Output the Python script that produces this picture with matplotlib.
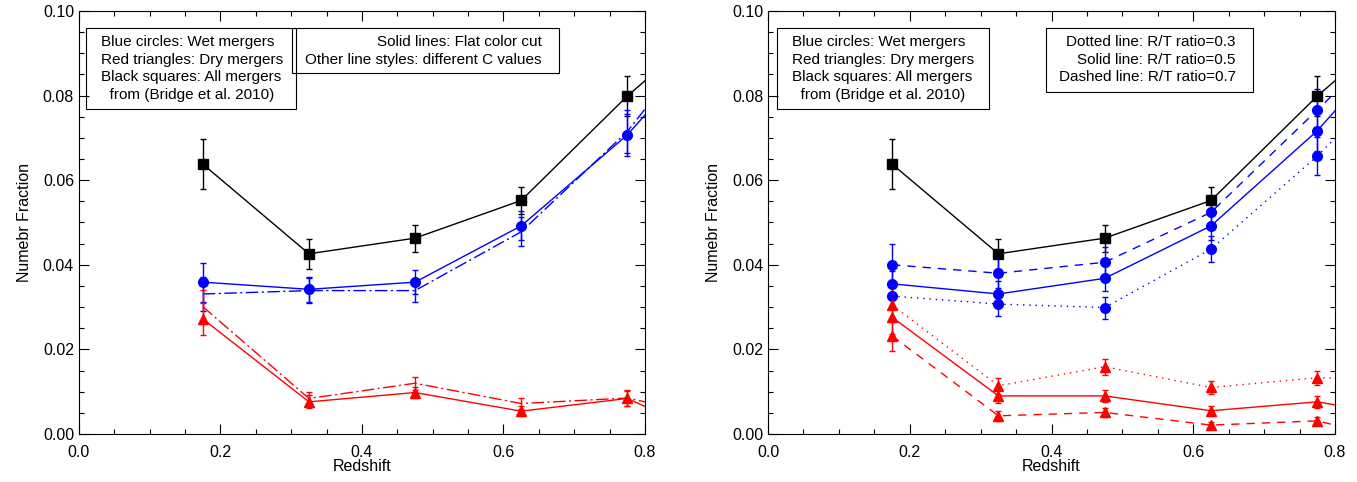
import matplotlib

matplotlib.use("Agg")
import matplotlib.pyplot as plt
from matplotlib.patches import Rectangle
from matplotlib.ticker import MultipleLocator

plt.rcParams["font.family"] = ["Liberation Sans", "DejaVu Sans"]

# redshift bins (marker positions) and the value where each line leaves the frame at z=0.8
z = [0.175, 0.325, 0.475, 0.625, 0.775]
z_edge = 0.8

# Bridge et al. 2010, all mergers
all_frac = [0.0638, 0.0426, 0.0463, 0.0552, 0.0799]
all_edge = 0.0835
all_err = [0.0060, 0.0035, 0.0032, 0.0033, 0.0048]

# left panel: flat colour cut vs. C value
wet_flat = [0.0359, 0.0342, 0.0359, 0.0492, 0.0707]
wet_flat_edge = 0.0754
wet_flat_err = [0.0046, 0.0030, 0.0029, 0.0034, 0.0050]
wet_c = [0.0331, 0.0339, 0.0339, 0.0478, 0.0715]
wet_c_edge = 0.0768
wet_c_err = [0.0040, 0.0030, 0.0028, 0.0034, 0.0050]
dry_flat = [0.0272, 0.0076, 0.0098, 0.0054, 0.0084]
dry_flat_edge = 0.0065
dry_flat_err = [0.0038, 0.0015, 0.0012, 0.0012, 0.0018]
dry_c = [0.0301, 0.0084, 0.0120, 0.0072, 0.0085]
dry_c_edge = 0.0076
dry_c_err = [0.0040, 0.0015, 0.0015, 0.0013, 0.0018]

# right panel: R/T ratio 0.3 / 0.5 / 0.7
wet_03 = [0.0326, 0.0307, 0.0299, 0.0437, 0.0657]
wet_03_edge = 0.0699
wet_03_err = [0.0025, 0.0028, 0.0026, 0.0030, 0.0045]
wet_05 = [0.0355, 0.0331, 0.0368, 0.0492, 0.0717]
wet_05_edge = 0.0764
wet_05_err = [0.0030, 0.0030, 0.0030, 0.0033, 0.0048]
wet_07 = [0.0400, 0.0380, 0.0406, 0.0524, 0.0766]
wet_07_edge = 0.0807
wet_07_err = [0.0048, 0.0035, 0.0035, 0.0035, 0.0050]
dry_03 = [0.0305, 0.0114, 0.0159, 0.0110, 0.0133]
dry_03_edge = 0.0132
dry_03_err = [0.0040, 0.0019, 0.0019, 0.0015, 0.0017]
dry_05 = [0.0276, 0.0090, 0.0090, 0.0055, 0.0076]
dry_05_edge = 0.0069
dry_05_err = [0.0040, 0.0017, 0.0015, 0.0012, 0.0014]
dry_07 = [0.0232, 0.0043, 0.0051, 0.0021, 0.0031]
dry_07_edge = 0.0021
dry_07_err = [0.0035, 0.0012, 0.0011, 0.0008, 0.0010]

left_box1 = ["Blue circles: Wet mergers", "Red triangles: Dry mergers",
             "Black squares: All mergers", "  from (Bridge et al. 2010)"]
left_box2 = ["Solid lines: Flat color cut", "Other line styles: different C values"]
right_box2 = ["Dotted line: R/T ratio=0.3", "Solid line: R/T ratio=0.5",
              "Dashed line: R/T ratio=0.7"]

DASHDOT = (0, (9, 2.5, 1.5, 2.5))
DOTTED = (0, (1, 3.5))
DASHED = (0, (6, 5))


def series(ax, y, edge, err, color, marker, ls, ms, lw=1.0):
    ax.plot(z + [z_edge], y + [edge], color=color, ls=ls, lw=lw, clip_on=True)
    ax.errorbar(z, y, yerr=err, fmt=marker, color=color, ms=ms, ecolor=color,
                elinewidth=1.0, capsize=2.5, capthick=1.0, ls="none")


def frame(ax):
    ax.set_xlim(0.0, 0.8)
    ax.set_ylim(0.0, 0.10)
    ax.xaxis.set_major_locator(MultipleLocator(0.2))
    ax.xaxis.set_minor_locator(MultipleLocator(0.05))
    ax.yaxis.set_major_locator(MultipleLocator(0.02))
    ax.yaxis.set_minor_locator(MultipleLocator(0.005))
    ax.xaxis.set_major_formatter(lambda v, p: f"{v:.1f}")
    ax.yaxis.set_major_formatter(lambda v, p: f"{v:.2f}")
    ax.tick_params(which="both", direction="in", top=True, right=True,
                   labelsize=11.5, width=0.8)
    ax.tick_params(which="major", length=7)
    ax.tick_params(which="minor", length=3.5)
    ax.tick_params(axis="x", pad=8)
    for s in ax.spines.values():
        s.set_linewidth(0.8)
    ax.set_xlabel("Redshift", fontsize=11.5, labelpad=-1)
    ax.set_ylabel("Numebr Fraction", fontsize=11.5, labelpad=8)


def box(ax, x0, x1, y0, y1, lines, align):
    ax.add_patch(Rectangle((x0, y0), x1 - x0, y1 - y0, transform=ax.transAxes,
                           fill=False, lw=0.8, ec="black", zorder=1))
    ys = [0.927, 0.885, 0.844, 0.801]
    for t, yy in zip(lines, ys):
        if align == "left":
            ax.text(x0 + 0.027, yy, t, transform=ax.transAxes, ha="left",
                    va="center", fontsize=11)
        else:
            ax.text(x1 - 0.03, yy, t, transform=ax.transAxes, ha="right",
                    va="center", fontsize=11)


fig = plt.figure(figsize=(13.57, 4.82), dpi=100)
ax1 = fig.add_axes([0.0582, 0.0996, 0.4171, 0.8776])
ax2 = fig.add_axes([0.566, 0.0996, 0.4178, 0.8776])

# left
series(ax1, all_frac, all_edge, all_err, "black", "s", "-", 6.5)
series(ax1, wet_c, wet_c_edge, wet_c_err, "blue", "none", DASHDOT, 7)
series(ax1, wet_flat, wet_flat_edge, wet_flat_err, "blue", "o", "-", 7)
series(ax1, dry_c, dry_c_edge, dry_c_err, "red", "none", DASHDOT, 7)
series(ax1, dry_flat, dry_flat_edge, dry_flat_err, "red", "^", "-", 7)
frame(ax1)
box(ax1, 0.0124, 0.383, 0.768, 0.96, left_box1, "left")
box(ax1, 0.376, 0.848, 0.853, 0.96, left_box2, "right")

# right
series(ax2, all_frac, all_edge, all_err, "black", "s", "-", 6.5)
series(ax2, wet_03, wet_03_edge, wet_03_err, "blue", "o", DOTTED, 7)
series(ax2, wet_05, wet_05_edge, wet_05_err, "blue", "o", "-", 7)
series(ax2, wet_07, wet_07_edge, wet_07_err, "blue", "o", DASHED, 7)
series(ax2, dry_03, dry_03_edge, dry_03_err, "red", "^", DOTTED, 7)
series(ax2, dry_05, dry_05_edge, dry_05_err, "red", "^", "-", 7)
series(ax2, dry_07, dry_07_edge, dry_07_err, "red", "^", DASHED, 7)
frame(ax2)
box(ax2, 0.016, 0.39, 0.768, 0.96, left_box1, "left")
box(ax2, 0.49, 0.855, 0.809, 0.96, right_box2, "right")

fig.savefig("out.png", dpi=100)
